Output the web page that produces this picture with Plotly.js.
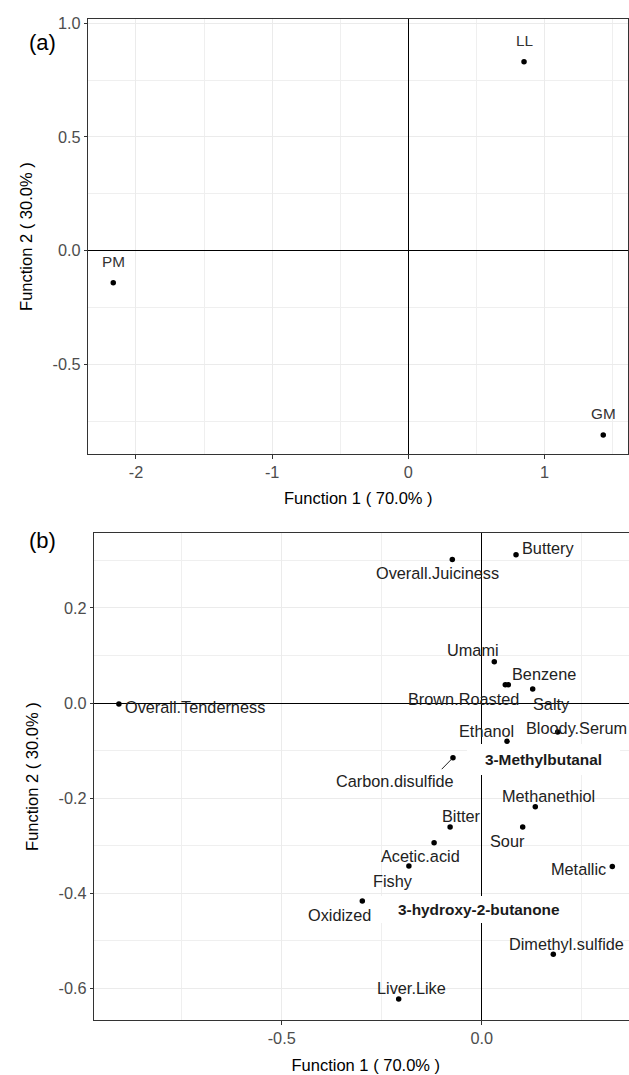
<!DOCTYPE html>
<html>
<head>
<meta charset="utf-8">
<script src="https://cdn.plot.ly/plotly-3.0.1.min.js"></script>
<style>
html, body { margin: 0; padding: 0; overflow: hidden; background: #fff; }
#chart { width: 640px; height: 1075px; }
</style>
</head>
<body>
<div id="chart"></div>
<script>
// ---------- data: panel (a) ----------
const groupNames = ['LL', 'PM', 'GM'];
const groupF1 = [0.85, -2.167, 1.432];
const groupF2 = [0.831, -0.141, -0.810];

// ---------- data: panel (b) ----------
const attrNames = ['Overall.Tenderness', 'Overall.Juiciness', 'Buttery', 'Umami', 'Brown.Roasted',
  'Benzene', 'Salty', 'Bloody.Serum', 'Ethanol', '3-Methylbutanal', 'Carbon.disulfide',
  'Methanethiol', 'Bitter', 'Sour', 'Acetic.acid', 'Fishy', 'Metallic', 'Oxidized',
  '3-hydroxy-2-butanone', 'Dimethyl.sulfide', 'Liver.Like'];
const attrF1 = [-0.907, -0.0735, 0.0858, 0.0315, 0.059, 0.0665, 0.1275, 0.19, 0.0633, 0.154,
  -0.0718, 0.134, -0.079, 0.1025, -0.119, -0.182, 0.3265, -0.2985, -0.006, 0.179, -0.2075];
const attrF2 = [-0.002, 0.302, 0.312, 0.0869, 0.0385, 0.0385, 0.0294, -0.061, -0.0806, -0.118,
  -0.115, -0.218, -0.261, -0.261, -0.294, -0.343, -0.344, -0.4165, -0.434, -0.5286, -0.6226];
const boldAttrs = ['3-Methylbutanal', '3-hydroxy-2-butanone'];

// ---------- tick labels ----------
const xTickValsA = [-2, -1, 0, 1];
const xTickTextA = ['-2', '-1', '0', '1'];
const yTickValsA = [1.0, 0.5, 0.0, -0.5];
const yTickTextA = ['1.0', '0.5', '0.0', '-0.5'];
const xMinorA = [-1.5, -0.5, 0.5, 1.5];
const yMinorA = [0.75, 0.25, -0.25, -0.75];

const xTickValsB = [-0.5, 0.0];
const xTickTextB = ['-0.5', '0.0'];
const yTickValsB = [0.2, 0.0, -0.2, -0.4, -0.6];
const yTickTextB = ['0.2', '0.0', '-0.2', '-0.4', '-0.6'];
const xMinorB = [-0.75, -0.25, 0.25];
const yMinorB = [0.3, 0.1, -0.1, -0.3, -0.5];

const xTitle = 'Function 1 ( 70.0% )';
const yTitle = 'Function 2 ( 30.0% )';

// ---------- label placement (pixel nudges, layout only) ----------
const labelNudge = {
  'Overall.Tenderness': [4, 2.7, 'left'],
  'Overall.Juiciness': [-15, 14, 'center'],
  'Buttery': [31.5, -6.4, 'center'],
  'Umami': [-21, -11.7, 'center'],
  'Brown.Roasted': [-42, 14.6, 'center'],
  'Benzene': [36, -10.7, 'center'],
  'Salty': [19, 15, 'center'],
  'Bloody.Serum': [19, -3.7, 'center'],
  'Ethanol': [-20.3, -10.6, 'center'],
  'Carbon.disulfide': [-58, 23, 'center'],
  'Methanethiol': [13, -10.4, 'center'],
  'Bitter': [11, -11.3, 'center'],
  'Sour': [-15, 13.7, 'center'],
  'Acetic.acid': [-14, 13, 'center'],
  'Fishy': [-15.7, 14.7, 'center'],
  'Metallic': [-34, 2.3, 'center'],
  'Oxidized': [-23, 14.3, 'center'],
  'Dimethyl.sulfide': [12.7, -10.6, 'center'],
  'Liver.Like': [12.3, -10.7, 'center']
};
const boldBox = { '3-Methylbutanal': [153, 31], '3-hydroxy-2-butanone': [196, 27] };
const segmentNudge = { 'Carbon.disulfide': [-12.7, 13] };

const FAM = 'Liberation Sans, Arial, Helvetica, sans-serif';
const W = 640, H = 1075;
const px = v => v / W;
const py = v => 1 - v / H;

const traces = [
  { type: 'scatter', mode: 'markers', x: groupF1, y: groupF2, xaxis: 'x', yaxis: 'y',
    marker: { color: '#000', size: 5.5 }, hoverinfo: 'skip', showlegend: false },
  { type: 'scatter', mode: 'markers', x: attrF1, y: attrF2, xaxis: 'x2', yaxis: 'y2',
    marker: { color: '#000', size: 5.5 }, hoverinfo: 'skip', showlegend: false }
];

const annotations = [];
groupNames.forEach((n, i) => {
  annotations.push({ x: groupF1[i], y: groupF2[i], xref: 'x', yref: 'y', text: n,
    showarrow: false, yshift: 21, font: { family: FAM, size: 15.3, color: '#333' } });
});
attrNames.forEach((n, i) => {
  if (boldAttrs.includes(n)) {
    const b = boldBox[n];
    annotations.push({ x: attrF1[i], y: attrF2[i], xref: 'x2', yref: 'y2', text: '<b>' + n + '</b>',
      showarrow: false, bgcolor: '#fff', borderpad: 0, borderwidth: 0, width: b[0], height: b[1],
      font: { family: FAM, size: 15.4, color: '#1a1a1a' } });
    return;
  }
  const nd = labelNudge[n];
  annotations.push({ x: attrF1[i], y: attrF2[i], xref: 'x2', yref: 'y2', text: n,
    showarrow: false, xanchor: nd[2], xshift: nd[0], yshift: -nd[1],
    font: { family: FAM, size: 16.3, color: '#222' } });
  if (segmentNudge[n]) {
    const s = segmentNudge[n];
    annotations.push({ x: attrF1[i], y: attrF2[i], xref: 'x2', yref: 'y2', text: '',
      showarrow: true, arrowhead: 0, arrowwidth: 1, arrowcolor: '#222', standoff: 2,
      ax: s[0], ay: s[1] });
  }
});
annotations.push({ x: px(26.7), y: py(28.3), xref: 'paper', yref: 'paper', text: '(a)',
  showarrow: false, font: { family: FAM, size: 22, color: '#000' } });
annotations.push({ x: px(26.7), y: py(540), xref: 'paper', yref: 'paper', text: '(b)',
  showarrow: false, font: { family: FAM, size: 22, color: '#000' } });

function axisCommon() {
  return {
    showline: true, linecolor: '#333', linewidth: 1, mirror: true,
    ticks: 'outside', ticklen: 3.5, tickwidth: 1, tickcolor: '#333',
    tickfont: { family: FAM, size: 16.3, color: '#4d4d4d' },
    showgrid: true, gridcolor: '#ebebeb', gridwidth: 1,
    zeroline: true, zerolinecolor: '#000', zerolinewidth: 1,
    tickmode: 'array', fixedrange: true
  };
}

const layout = {
  width: W, height: H,
  margin: { l: 0, r: 0, t: 0, b: 0 },
  paper_bgcolor: '#fff', plot_bgcolor: '#fff',
  showlegend: false,
  xaxis: Object.assign(axisCommon(), {
    domain: [px(88.3), px(628.3)], range: [-2.3503, 1.6159], anchor: 'y',
    tickvals: xTickValsA, ticktext: xTickTextA,
    minor: { tickmode: 'array', tickvals: xMinorA, showgrid: true, gridcolor: '#efefef', gridwidth: 1 },
    title: { text: xTitle, font: { family: FAM, size: 16.5, color: '#000' }, standoff: 12 }
  }),
  yaxis: Object.assign(axisCommon(), {
    domain: [py(454), py(19.3)], range: [-0.8936, 1.0171], anchor: 'x',
    tickvals: yTickValsA, ticktext: yTickTextA,
    minor: { tickmode: 'array', tickvals: yMinorA, showgrid: true, gridcolor: '#efefef', gridwidth: 1 },
    title: { text: yTitle, font: { family: FAM, size: 16.5, color: '#000' }, standoff: 15 }
  }),
  xaxis2: Object.assign(axisCommon(), {
    domain: [px(94.3), px(637.3)], range: [-0.9685, 0.389], anchor: 'y2',
    tickvals: xTickValsB, ticktext: xTickTextB,
    minor: { tickmode: 'array', tickvals: xMinorB, showgrid: true, gridcolor: '#efefef', gridwidth: 1 },
    title: { text: xTitle, font: { family: FAM, size: 16.5, color: '#000' }, standoff: 13 }
  }),
  yaxis2: Object.assign(axisCommon(), {
    domain: [py(1020), py(533.3)], range: [-0.6668, 0.357], anchor: 'x2',
    tickvals: yTickValsB, ticktext: yTickTextB,
    minor: { tickmode: 'array', tickvals: yMinorB, showgrid: true, gridcolor: '#efefef', gridwidth: 1 },
    title: { text: yTitle, font: { family: FAM, size: 16.5, color: '#000' }, standoff: 15 }
  }),
  annotations: annotations
};

Plotly.newPlot('chart', traces, layout, { displayModeBar: false, staticPlot: true });
</script>
</body>
</html>
